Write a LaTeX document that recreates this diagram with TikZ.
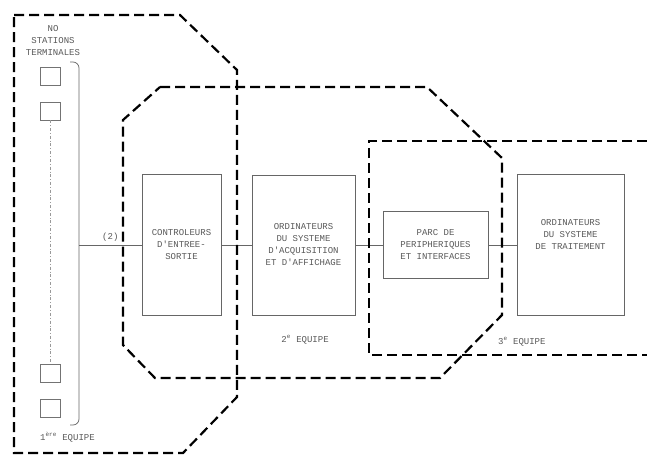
\documentclass[tikz,border=0pt]{standalone}
\usepackage{fontspec}
\setmonofont{Liberation Mono}
\begin{document}
\begin{tikzpicture}[x=1pt, y=-1pt,
    txt/.style={font=\ttfamily\fontsize{9}{12}\selectfont, text=black!65, align=center, inner sep=0pt},
    unit/.style={draw=black!60, line width=0.8pt, inner sep=2pt, txt},
    station/.style={draw=black!55, line width=0.7pt, minimum width=20pt, minimum height=18pt, inner sep=0pt},
    team/.style={draw=black, line width=2.2pt, dash pattern=on 10pt off 5pt},
    link/.style={draw=black!60, line width=0.7pt}
]
    \useasboundingbox[fill=white] (0,0) rectangle (647,455);

    % Stations
    \node[txt] (title) at (53,41) {NO\\STATIONS\\TERMINALES};
    \node[station] (s1) at (50,76) {};
    \node[station] (s2) at (50,111) {};
    \node[station] (s3) at (50,373) {};
    \node[station] (s4) at (50,408) {};
    \draw[link, black!40, dash dot] (s2.south) -- (s3.north);
    \draw[link, rounded corners=6pt] (70,62) -- (79,62) -- (79,425) -- (70,425);
    \coordinate (jct) at (79,245);

    % Units
    \node[unit, minimum width=79pt, minimum height=141pt] (ctrl) at (181.5,245) {CONTROLEURS\\D'ENTREE-\\SORTIE};
    \node[unit, minimum width=103pt, minimum height=140pt] (acq) at (303.5,245) {ORDINATEURS\\DU SYSTEME\\D'ACQUISITION\\ET D'AFFICHAGE};
    \node[unit, minimum width=105pt, minimum height=67pt] (parc) at (435.5,245) {PARC DE\\PERIPHERIQUES\\ET INTERFACES};
    \node[unit, minimum width=107pt, minimum height=141pt] (trt) at (570.5,245) {ORDINATEURS\\DU SYSTEME\\DE TRAITEMENT\\[10pt]};

    \draw[link] (jct) -- node[txt, above=3pt] {(2)} (ctrl.west);
    \draw[link] (ctrl.east) -- (acq.west);
    \draw[link] (acq.east) -- (parc.west);
    \draw[link] (parc.east) -- (trt.west);

    % Teams
    \draw[team] (14,15) -- (180,15) -- (237,70) -- (237,397) -- (183,453) -- (14,453) -- cycle;
    \draw[team] (160,87) -- (427,87) -- (502,158) -- (502,315) -- (440,378) -- (155,378) -- (123,345) -- (123,120) -- cycle;
    \draw[team] (647,141) -- (369,141) -- (369,355) -- (647,355);

    \node[txt, anchor=west] (t1) at (40,437) {1\textsuperscript{ère} EQUIPE};
    \node[txt] (t2) at (305,340) {2\textsuperscript{e} EQUIPE};
    \node[txt, anchor=west] (t3) at (498,342) {3\textsuperscript{e} EQUIPE};
\end{tikzpicture}
\end{document}
